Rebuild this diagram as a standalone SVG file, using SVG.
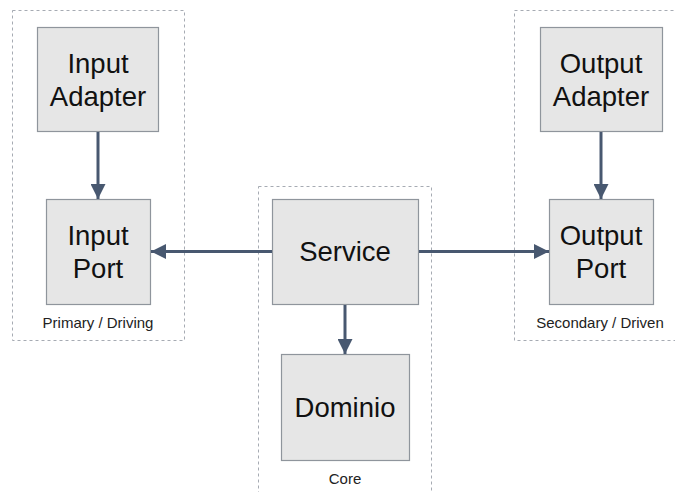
<svg xmlns="http://www.w3.org/2000/svg" width="675" height="492" viewBox="0 0 675 492">
<style>
.cluster{fill:none;stroke:#a6abb3;stroke-width:1;stroke-dasharray:3,3}
.box{fill:#e6e6e6;stroke:#8f959c;stroke-width:1.2}
.lbl{font-family:"Liberation Sans",Arial,sans-serif;font-size:27.5px;fill:#111;text-anchor:middle}
.sm{font-family:"Liberation Sans",Arial,sans-serif;font-size:15px;fill:#222;text-anchor:middle}
.edge{stroke:#485870;stroke-width:3;fill:none}
</style>
<defs>
<marker id="arr" viewBox="0 0 10 10" refX="10" refY="5" markerWidth="7" markerHeight="5" markerUnits="strokeWidth" orient="auto">
<path d="M0,0 L10,5 L0,10 z" fill="#485870"/>
</marker>
</defs>
<rect width="675" height="492" fill="#fff"/>
<g id="cluster-primary">
<rect class="cluster" x="12.5" y="10.5" width="172" height="330"/>
<text class="sm" x="98" y="328">Primary / Driving</text>
</g>
<g id="cluster-core">
<rect class="cluster" x="258.5" y="186.5" width="173" height="320"/>
<text class="sm" x="345" y="484">Core</text>
</g>
<g id="cluster-secondary">
<rect class="cluster" x="514.5" y="10.5" width="180" height="330"/>
<text class="sm" x="600" y="328">Secondary / Driven</text>
</g>
<g id="input-adapter">
<rect class="box" x="37.5" y="27.5" width="121" height="104"/>
<text class="lbl" x="98" y="73">Input</text>
<text class="lbl" x="98" y="106">Adapter</text>
</g>
<g id="input-port">
<rect class="box" x="46.5" y="199.5" width="104" height="105"/>
<text class="lbl" x="98" y="245">Input</text>
<text class="lbl" x="98" y="278">Port</text>
</g>
<g id="service">
<rect class="box" x="272.5" y="199.5" width="146" height="105"/>
<text class="lbl" x="345" y="261">Service</text>
</g>
<g id="dominio">
<rect class="box" x="281.5" y="354.5" width="128" height="106"/>
<text class="lbl" x="345" y="417">Dominio</text>
</g>
<g id="output-adapter">
<rect class="box" x="540.5" y="27.5" width="122" height="104"/>
<text class="lbl" x="601" y="73">Output</text>
<text class="lbl" x="601" y="106">Adapter</text>
</g>
<g id="output-port">
<rect class="box" x="549.5" y="199.5" width="104" height="105"/>
<text class="lbl" x="601" y="245">Output</text>
<text class="lbl" x="601" y="278">Port</text>
</g>
<g id="connectors">
<line class="edge" x1="98" y1="132" x2="98" y2="199" marker-end="url(#arr)"/>
<line class="edge" x1="601" y1="132" x2="601" y2="199" marker-end="url(#arr)"/>
<line class="edge" x1="272" y1="251.5" x2="151" y2="251.5" marker-end="url(#arr)"/>
<line class="edge" x1="419" y1="251.5" x2="549" y2="251.5" marker-end="url(#arr)"/>
<line class="edge" x1="345" y1="305" x2="345" y2="354" marker-end="url(#arr)"/>
</g>
</svg>
